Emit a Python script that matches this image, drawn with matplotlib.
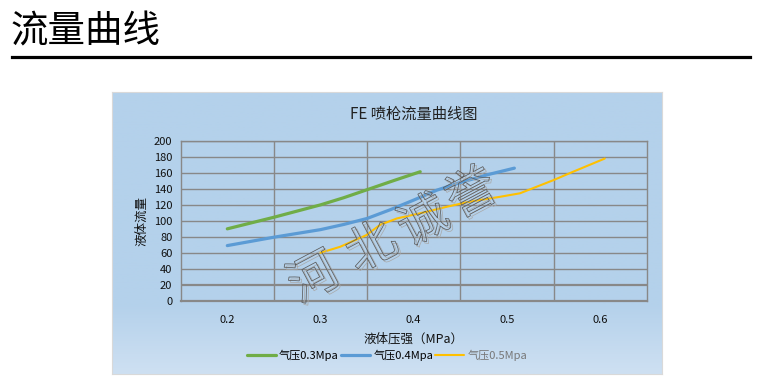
import numpy as np
import matplotlib
matplotlib.use("Agg")
import matplotlib.pyplot as plt
from matplotlib.textpath import TextPath
from matplotlib.patches import PathPatch
from matplotlib.font_manager import FontProperties
from matplotlib.transforms import Affine2D
from matplotlib.lines import Line2D

plt.rcParams['font.family'] = ['Noto Sans CJK SC', 'DejaVu Sans']

# data
green_x = [0.2, 0.25, 0.3, 0.325, 0.35, 0.38, 0.407]
green_y = [90, 104.5, 120, 129, 139, 151, 161.5]

blue_x = [0.2, 0.25, 0.3, 0.325, 0.35, 0.375, 0.4, 0.425, 0.45, 0.48, 0.508]
blue_y = [69, 79.5, 89, 95.5, 103, 114, 126, 138.5, 148, 158, 166]

orange_x = [0.3, 0.321, 0.349, 0.364, 0.382, 0.407, 0.435, 0.46, 0.492, 0.514, 0.55, 0.57, 0.605]
orange_y = [60, 67.5, 82, 95, 103, 109.5, 117.5, 124, 130, 134.5, 151, 161, 178]

x_ticks = [0.2, 0.3, 0.4, 0.5, 0.6]
y_ticks = list(range(0, 201, 20))
series_names = ['气压0.3Mpa', '气压0.4Mpa', '气压0.5Mpa']
series_colors = ['#70AD47', '#5B9BD5', '#FFC000']
watermark = '河北诚誉'

W, H = 761, 388
fig = plt.figure(figsize=(W / 100, H / 100), dpi=100)
fig.patch.set_facecolor('white')

def fx(px):
    return px / W

def fy(py):
    return 1 - py / H

# page heading
fig.text(fx(11), fy(42), '流量曲线', fontsize=27, color='black', ha='left', va='baseline')
fig.add_artist(Line2D([fx(12), fx(750)], [fy(57), fy(57)], color='black', lw=2.3))

# chart area background with soft gradient at bottom
bg = fig.add_axes([fx(112), fy(374), fx(662) - fx(112), fy(92) - fy(374)])
grad = np.ones((100, 1))
grad[75:, 0] = np.linspace(1, 0, 25)
top = np.array([180, 209, 235]) / 255
bot = np.array([206, 224, 242]) / 255
img = top[None, None, :] * grad[:, :, None] + bot[None, None, :] * (1 - grad[:, :, None])
bg.imshow(img, aspect='auto', extent=[0, 1, 0, 1])
bg.set_xticks([])
bg.set_yticks([])
for s in bg.spines.values():
    s.set_color('#D9D9D9')
bg.set_zorder(0)

ax = fig.add_axes([fx(180.7), fy(300.7), fx(646.7) - fx(180.7), fy(141) - fy(300.7)])
ax.set_facecolor('none')
ax.set_zorder(1)

ax.plot(green_x, green_y, color=series_colors[0], lw=2.3, solid_capstyle='round', label=series_names[0])
ax.plot(blue_x, blue_y, color=series_colors[1], lw=2.3, solid_capstyle='round', label=series_names[1])
ax.plot(orange_x, orange_y, color=series_colors[2], lw=1.5, solid_capstyle='round', label=series_names[2])

ax.set_xlim(0.15, 0.65)
ax.set_ylim(0, 200)
ax.set_xticks(x_ticks)
ax.set_xticklabels([str(v) for v in x_ticks])
ax.set_yticks(y_ticks)
ax.tick_params(length=0, labelsize=8, colors='#111111')
ax.tick_params(axis='x', pad=10)
ax.tick_params(axis='y', pad=6)

for yv in y_ticks:
    ax.axhline(yv, color='#888888', lw=1.6 if yv == 20 else 1.0, zorder=0.5)
for xv in np.arange(0.25, 0.65, 0.1):
    ax.axvline(xv, color='#888888', lw=1.0, zorder=0.5)
for s in ax.spines.values():
    s.set_color('#888888')
    s.set_linewidth(1.0)
ax.spines['bottom'].set_linewidth(1.6)

ax.set_xlabel('液体压强（MPa）', fontsize=9, labelpad=6, color='#111111')
ax.set_ylabel('液体流量', fontsize=9, labelpad=4, color='#111111')
ax.set_title('FE 喷枪流量曲线图', fontsize=11, pad=16, color='#222222')

leg = fig.legend(loc='center', bbox_to_anchor=(fx(387), fy(355)), ncol=3, frameon=False,
                 fontsize=8, handlelength=2.6, handletextpad=0.3, columnspacing=0.2)
leg.get_texts()[2].set_color('#777777')

# hollow watermark
fp = FontProperties(family='Noto Sans CJK SC')
centers = [(312, 275), (370, 244), (422, 218), (470, 190)]
for ch, (cx, cy) in zip(watermark, centers):
    tp = TextPath((0, 0), ch, size=50, prop=fp)
    bb = tp.get_extents()
    for off, col, lw in [((2, -2), '#A8A8A8', 0.5), ((0, 0), '#5A5A5A', 0.55)]:
        tr = (Affine2D().translate(-(bb.x0 + bb.x1) / 2, -(bb.y0 + bb.y1) / 2)
              .rotate_deg(28).translate(cx + off[0], H - cy + off[1]).scale(1 / 100)
              + fig.dpi_scale_trans)
        fig.add_artist(PathPatch(tp, facecolor='none', edgecolor=col, lw=lw, transform=tr, zorder=5))

fig.savefig('out.png', dpi=100)
